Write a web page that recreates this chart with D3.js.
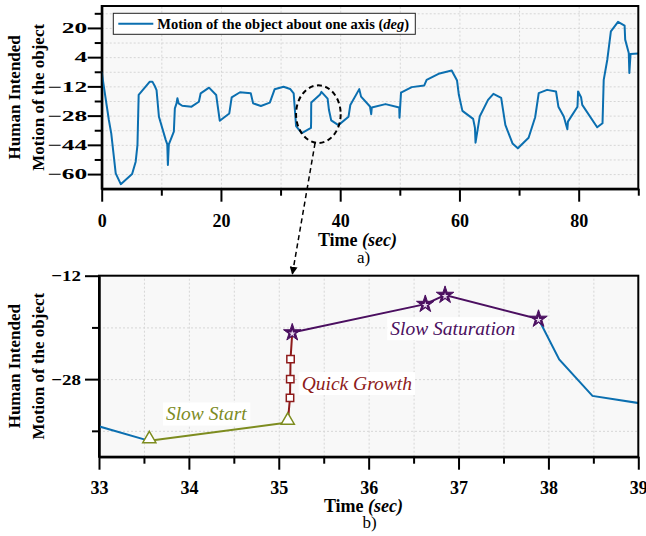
<!DOCTYPE html>
<html>
<head>
<meta charset="utf-8">
<script src="https://cdn.jsdelivr.net/npm/d3@7"></script>
<style>
  body { margin: 0; background: #fff; }
  svg { display: block; font-family: "Liberation Serif", "Times New Roman", serif; }
  .grid line { stroke: #d6d6d6; stroke-dasharray: 2,2; }
  .grid path { display: none; }
  .axis path, .axis line { stroke: #000; stroke-width: 2; }
  .axis text { font-size: 18px; font-weight: bold; fill: #000; font-family: "Liberation Serif", serif; }
</style>
</head>
<body>
<svg id="chart" width="646" height="536"></svg>
<script>
// full recording, time in sec, motion in deg
const timeSec = [0, 0.4, 1.2, 1.6, 2.35, 3.2, 5.1, 5.7, 6.0, 6.2, 8.07, 8.5, 8.9, 9.2, 9.6, 10.75, 11.0, 11.1, 11.26,
  12.1, 12.27, 12.55, 12.7, 12.9, 13.5, 15.07, 16.3, 16.6, 18.0, 19.2, 19.8, 21.4, 21.8, 23.2, 25.0, 25.4, 26.7,
  28.2, 29.0, 30.5, 31.6, 32.2, 32.6, 33.56, 35.1, 35.125, 35.128, 35.131, 35.15, 36.63, 36.85, 37.89, 38.12,
  38.49, 39.7, 41.4, 41.7, 43.2, 43.5, 45.0, 45.2, 45.3, 47.6, 49.9, 49.95, 50.2, 52.0, 54.1, 54.5, 56.5, 58.7,
  59.6, 59.9, 60.5, 62.3, 62.6, 62.7, 63.4, 64.8, 65.7, 67.0, 67.7, 68.9, 69.8, 71.6, 72.7, 73.3, 74.7, 76.2,
  76.6, 77.5, 78.1, 78.2, 79.8, 79.9, 80.4, 80.6, 83.1, 84.0, 84.2, 84.8, 85.4, 86.6, 87.7, 87.8, 88.4, 88.5,
  88.7, 90];
const motionDeg = [-4, -13, -30.4, -37.7, -59.6, -65.5, -60, -53.2, -44, -16.7, -9.4, -9.4, -11.8, -14, -28.6,
  -41.4, -43.7, -55, -43.7, -36.8, -24, -21.3, -18.5, -21.3, -22.6, -23.1, -20.4, -15.8, -12.7, -16.7, -30.8,
  -26.8, -18, -15.2, -15.8, -21.3, -22.7, -20.9, -13.6, -12.2, -13.4, -15.8, -33.7, -37.55, -34.7, -30.9, -28,
  -24.9, -20.8, -16.4, -15, -18.7, -24.95, -30.6, -33.2, -28.6, -22.2, -13.5, -17.6, -23, -27.2, -23.6, -21.7,
  -23.6, -29.1, -15.4, -12.4, -11.5, -8.4, -5.1, -3.3, -8.8, -16.6, -25.4, -29.8, -34.6, -42.8, -28.5, -19.4,
  -16.1, -18.3, -33.1, -43.2, -45.9, -40.1, -28.9, -15.7, -13.9, -14.8, -23.1, -28.5, -35.5, -31.3, -23.1,
  -14.8, -17.9, -22.1, -34.4, -32.2, -8.4, 2.6, 18.1, 23.3, 21.3, 13.6, 6.3, -4.7, 5.7, 6.0];

// phases shown in the zoomed view
const slowStartT = [33.56, 35.1];
const slowStartV = [-37.55, -34.7];
const quickGrowthT = [35.125, 35.128, 35.131];
const quickGrowthV = [-30.9, -28, -24.9];
const slowSatT = [35.15, 36.63, 36.85, 37.89];
const slowSatV = [-20.8, -16.4, -15.0, -18.7];

const topXTicks = [0, 20, 40, 60, 80];
const topYTicks = [20, 4, -12, -28, -44, -60];
const botXTicks = [33, 34, 35, 36, 37, 38, 39];
const botYTicks = [-12, -28];

const blue = "#0b6fb0", olive = "#7d8c1f", darkRed = "#8e1b1b", purple = "#4b0f60";

const svg = d3.select("#chart");
const series = timeSec.map((t, i) => ({ t, v: motionDeg[i] }));
const zip = (T, V) => T.map((t, i) => ({ t, v: V[i] }));

function drawFrame(g, x, y, w, h, opts) {
  g.append("rect").attr("width", w).attr("height", h).attr("fill", "#f8f8f8");

  g.append("g").attr("class", "grid")
    .attr("transform", `translate(0,${h})`)
    .call(d3.axisBottom(x).tickValues(opts.xGrid).tickSize(-h).tickFormat(""));
  g.append("g").attr("class", "grid")
    .call(d3.axisLeft(y).tickValues(opts.yGrid).tickSize(-w).tickFormat(""));

  // minor ticks then labelled major ticks
  g.append("g").attr("class", "axis")
    .attr("transform", `translate(0,${h})`)
    .call(d3.axisBottom(x).tickValues(opts.xMinor).tickSize(7).tickSizeOuter(0).tickFormat(""));
  g.append("g").attr("class", "axis")
    .attr("transform", `translate(0,${h})`)
    .call(d3.axisBottom(x).tickValues(opts.xMajor).tickSize(13).tickSizeOuter(0)
      .tickPadding(opts.xPad).tickFormat(d3.format("d")));
  g.append("g").attr("class", "axis")
    .call(d3.axisLeft(y).tickValues(opts.yMinor).tickSize(7).tickSizeOuter(0).tickFormat(""));
  const ya = g.append("g").attr("class", "axis")
    .call(d3.axisLeft(y).tickValues(opts.yMajor).tickSize(14).tickSizeOuter(0).tickPadding(4));
  // y tick labels are short and wide in the original
  ya.selectAll("text")
    .style("font-size", opts.yFont + "px")
    .attr("x", 0)
    .attr("transform", `translate(${opts.yEnd},0) scale(${opts.yStretch},1)`);
}

function drawFrameBorder(g, w, h) {
  g.append("rect").attr("width", w).attr("height", h)
    .attr("fill", "none").attr("stroke", "#000").attr("stroke-width", 2);
}

function yLabel(cy) {
  const t = svg.append("text")
    .attr("transform", `translate(0,${cy}) rotate(-90)`)
    .attr("text-anchor", "middle")
    .style("font-size", "17px").style("font-weight", "bold");
  t.append("tspan").attr("x", 0).attr("y", 20).text("Human Intended");
  t.append("tspan").attr("x", 0).attr("y", 44).text("Motion of the object");
}

function xLabel(cx, y, sub, subY) {
  const t = svg.append("text").attr("x", cx).attr("y", y).attr("text-anchor", "middle")
    .style("font-size", "18px").style("font-weight", "bold");
  t.append("tspan").text("Time ");
  t.append("tspan").style("font-style", "italic").text("(sec)");
  svg.append("text").attr("x", cx + 6).attr("y", subY).attr("text-anchor", "middle")
    .style("font-size", "17px").text(sub);
}

// ---- top chart ----
const topBox = { left: 101.7, top: 6, right: 638.3, bottom: 188.7 };
const tw = topBox.right - topBox.left, th = topBox.bottom - topBox.top;
const xTop = d3.scaleLinear().domain([0, 90]).range([0, tw]);
const yTop = d3.scaleLinear().domain([-68, 32]).range([th, 0]);
const gTop = svg.append("g").attr("transform", `translate(${topBox.left},${topBox.top})`);

drawFrame(gTop, xTop, yTop, tw, th, {
  xGrid: d3.range(10, 90, 10),
  yGrid: d3.range(-60, 30, 8),
  xMajor: topXTicks,
  xMinor: [10, 30, 50, 70, 90],
  yMajor: topYTicks,
  yMinor: [28, 12, -4, -20, -36, -52],
  xPad: 13, yFont: 15, yStretch: 1.7, yEnd: -14.5
});

gTop.append("path").datum(series)
  .attr("fill", "none").attr("stroke", blue).attr("stroke-width", 2)
  .attr("stroke-linejoin", "round")
  .attr("d", d3.line().x(d => xTop(d.t)).y(d => yTop(d.v)));

drawFrameBorder(gTop, tw, th);

// legend
const leg = gTop.append("g").attr("transform", "translate(11.6,7.3)");
leg.append("rect").attr("width", 302).attr("height", 21)
  .attr("fill", "#fff").attr("stroke", "#222").attr("stroke-width", 1);
leg.append("line").attr("x1", 5).attr("x2", 40).attr("y1", 10.5).attr("y2", 10.5)
  .attr("stroke", blue).attr("stroke-width", 2);
const legText = leg.append("text").attr("x", 44).attr("y", 15.5)
  .style("font-size", "14.5px").style("font-weight", "bold");
legText.append("tspan").text("Motion of the object about one axis (");
legText.append("tspan").style("font-style", "italic").text("deg");
legText.append("tspan").text(")");

// dashed ellipse round the zoomed region
const ell = { t: 36.34, v: -27.2, rt: 3.74, rv: 15.76 };
const ecx = topBox.left + xTop(ell.t), ecy = topBox.top + yTop(ell.v);
const erx = xTop(ell.rt) - xTop(0), ery = yTop(0) - yTop(ell.rv);
svg.append("ellipse").attr("cx", ecx).attr("cy", ecy).attr("rx", erx).attr("ry", ery)
  .attr("fill", "none").attr("stroke", "#000").attr("stroke-width", 2).attr("stroke-dasharray", "5,3.5");

yLabel(97.3);
xLabel(357.5, 246, "a)", 263);

// ---- bottom chart ----
const botBox = { left: 99, top: 275.7, right: 638.3, bottom: 456.7 };
const bw = botBox.right - botBox.left, bh = botBox.bottom - botBox.top;
const xBot = d3.scaleLinear().domain([33, 39]).range([0, bw]);
const yBot = d3.scaleLinear().domain([-40, -12]).range([bh, 0]);
const gBot = svg.append("g").attr("transform", `translate(${botBox.left},${botBox.top})`);

drawFrame(gBot, xBot, yBot, bw, bh, {
  xGrid: d3.range(33.5, 39, 0.5),
  yGrid: [-36, -28, -20],
  xMajor: botXTicks,
  xMinor: d3.range(33.5, 39, 1),
  yMajor: botYTicks,
  yMinor: [-20, -36],
  xPad: 12, yFont: 15.5, yStretch: 1.22, yEnd: -18
});

svg.append("defs").append("clipPath").attr("id", "botClip")
  .append("rect").attr("width", bw).attr("height", bh);

const lineBot = d3.line().x(d => xBot(d.t)).y(d => yBot(d.v));
const plot = gBot.append("g").attr("clip-path", "url(#botClip)");

// blue parts outside the marked phases
const ss = zip(slowStartT, slowStartV), qg = zip(quickGrowthT, quickGrowthV), sat = zip(slowSatT, slowSatV);
[series.filter(d => d.t <= slowStartT[0]), series.filter(d => d.t >= slowSatT[slowSatT.length - 1])]
  .forEach(part => plot.append("path").datum(part)
    .attr("fill", "none").attr("stroke", blue).attr("stroke-width", 2).attr("d", lineBot));

plot.append("path").datum(ss)
  .attr("fill", "none").attr("stroke", olive).attr("stroke-width", 2).attr("d", lineBot);
plot.append("path").datum([ss[ss.length - 1], ...qg, sat[0]])
  .attr("fill", "none").attr("stroke", darkRed).attr("stroke-width", 2).attr("d", lineBot);
plot.append("path").datum(sat)
  .attr("fill", "none").attr("stroke", purple).attr("stroke-width", 2).attr("d", lineBot);

plot.selectAll(".tri").data(ss).join("path")
  .attr("transform", d => `translate(${xBot(d.t)},${yBot(d.v) - 2})`)
  .attr("d", d3.symbol(d3.symbolTriangle, 75))
  .attr("fill", "#fff").attr("stroke", olive).attr("stroke-width", 1.5);
plot.selectAll(".sq").data(qg).join("path")
  .attr("transform", d => `translate(${xBot(d.t)},${yBot(d.v)})`)
  .attr("d", d3.symbol(d3.symbolSquare, 55))
  .attr("fill", "#fff").attr("stroke", darkRed).attr("stroke-width", 1.5);
plot.selectAll(".star").data(sat).join("path")
  .attr("transform", d => `translate(${xBot(d.t)},${yBot(d.v)})`)
  .attr("d", d3.symbol(d3.symbolStar, 95))
  .attr("fill", purple).attr("stroke", purple).attr("stroke-width", 1);
plot.selectAll(".starIn").data(sat).join("path")
  .attr("transform", d => `translate(${xBot(d.t)},${yBot(d.v) + 1})`)
  .attr("d", d3.symbol(d3.symbolStar, 14))
  .attr("fill", "#e8dcef");

drawFrameBorder(gBot, bw, bh);

// phase labels with white boxes
const notes = [
  { text: "Slow Start", t: 33.745, v: -34.4, color: olive },
  { text: "Quick Growth", t: 35.255, v: -29.7, color: darkRed },
  { text: "Slow Saturation", t: 36.24, v: -21.2, color: purple }
];
notes.forEach(n => {
  const gt = gBot.append("g");
  const txt = gt.append("text").attr("x", xBot(n.t)).attr("y", yBot(n.v))
    .style("font-size", "19.5px").style("font-style", "italic").attr("fill", n.color).text(n.text);
  const b = txt.node().getBBox();
  gt.insert("rect", "text").attr("x", b.x - 3).attr("y", b.y - 1)
    .attr("width", b.width + 6).attr("height", b.height + 2).attr("fill", "#fff");
});

yLabel(366.2);
xLabel(363.5, 511.5, "b)", 528);

// dashed arrow from ellipse to the zoomed view
const ax0 = ecx - 3.3, ay0 = ecy + ery;
const ax1 = botBox.left + xBot(slowSatT[0]), ay1 = botBox.top - 1;
svg.select("defs").append("marker").attr("id", "head")
  .attr("viewBox", "0 0 10 10").attr("refX", 10).attr("refY", 5)
  .attr("markerWidth", 8).attr("markerHeight", 8).attr("markerUnits", "userSpaceOnUse")
  .attr("orient", "auto")
  .append("path").attr("d", "M0,0L10,5L0,10Z").attr("fill", "#000");
svg.append("line").attr("x1", ax0).attr("y1", ay0).attr("x2", ax1).attr("y2", ay1)
  .attr("stroke", "#000").attr("stroke-width", 1.5).attr("stroke-dasharray", "5,3.5")
  .attr("marker-end", "url(#head)");
</script>
</body>
</html>
